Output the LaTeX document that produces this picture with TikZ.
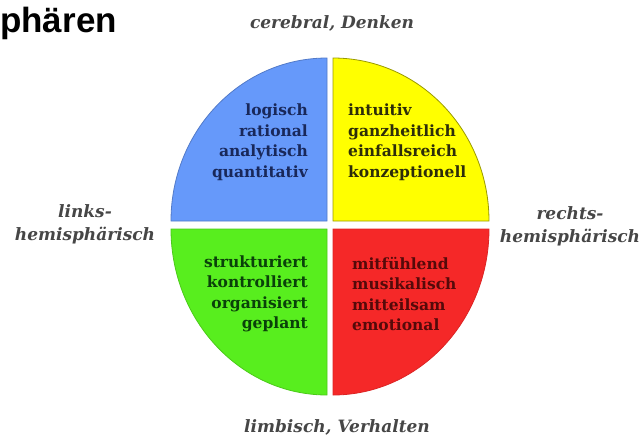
\documentclass[tikz,border=0pt]{standalone}
\usepackage{fontspec}
\setmainfont{DejaVu Serif}
\newfontfamily\titlefont{Liberation Sans}
\definecolor{qblue}{RGB}{102,153,250}
\definecolor{qyellow}{RGB}{255,255,0}
\definecolor{qgreen}{RGB}{88,238,30}
\definecolor{qred}{RGB}{245,40,40}
\definecolor{tblue}{RGB}{25,40,90}
\definecolor{tyellow}{RGB}{45,45,10}
\definecolor{tgreen}{RGB}{10,65,10}
\definecolor{tred}{RGB}{85,10,10}
\definecolor{lgray}{RGB}{70,70,70}
\begin{document}
\begin{tikzpicture}[x=1pt,y=-1pt,
  quad/.style={line width=0.8pt},
  qtext/.style={inner sep=0pt,font=\fontsize{15.5}{20.5}\selectfont\bfseries},
  outer/.style={inner sep=0pt,text=lgray,align=center,font=\fontsize{17}{23}\selectfont\bfseries\itshape}]
\useasboundingbox (0,0) rectangle (643,437);
% quadrants
\fill[qblue,draw=qblue!80!black,quad] (327,221) -- ++(-156,0) arc[start angle=180,end angle=270,x radius=156,y radius=163] -- cycle;
\fill[qyellow,draw=qyellow!60!black,quad] (333,221) -- ++(0,-163) arc[start angle=270,end angle=360,x radius=156,y radius=163] -- cycle;
\fill[qgreen,draw=qgreen!85!black,quad] (327,229) -- ++(-156,0) arc[start angle=180,end angle=90,x radius=156,y radius=166] -- cycle;
\fill[qred,draw=qred!90!black,quad] (333,229) -- ++(156,0) arc[start angle=0,end angle=90,x radius=156,y radius=166] -- cycle;
% quadrant texts
\node[qtext,text=tblue,align=right,anchor=east] (tb) at (308,142) {logisch\\rational\\analytisch\\quantitativ};
\node[qtext,text=tyellow,align=left,anchor=west] (ty) at (348,142) {intuitiv\\ganzheitlich\\einfallsreich\\konzeptionell};
\node[qtext,text=tgreen,align=right,anchor=east] (tg) at (308,294) {strukturiert\\kontrolliert\\organisiert\\geplant};
\node[qtext,text=tred,align=left,anchor=west] (tr) at (352,294) {mitfühlend\\musikalisch\\mitteilsam\\emotional};
% outer labels
\node[outer] (top) at (332,23) {cerebral, Denken};
\node[outer] (bot) at (337,427) {limbisch, Verhalten};
\node[outer] (left) at (85,224) {links-\\hemisphärisch};
\node[outer] (right) at (570,226) {rechts-\\hemisphärisch};
% title
\node[inner sep=0pt,anchor=base west,font=\titlefont\fontsize{35}{35}\selectfont\bfseries] (title) at (0,32) {phären};
\end{tikzpicture}
\end{document}
